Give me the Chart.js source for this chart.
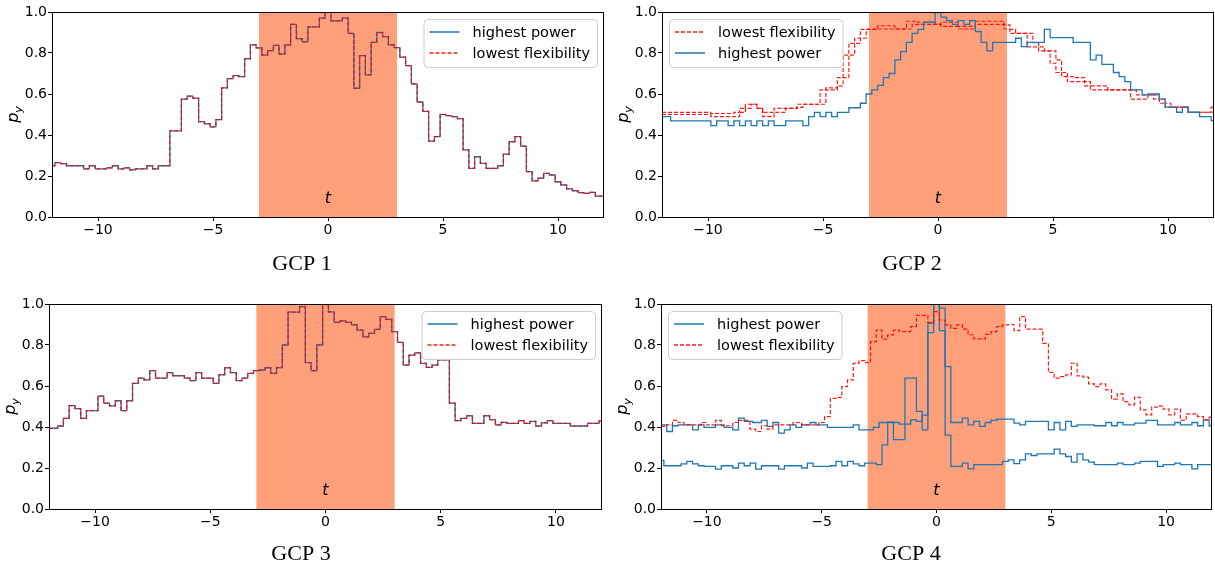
<!DOCTYPE html>
<html>
<head>
<meta charset="utf-8">
<title>GCP step curves</title>
<script src="https://cdn.jsdelivr.net/npm/chart.js@4.4.1/dist/chart.umd.min.js"></script>
<style>
  html, body { margin: 0; padding: 0; background: #fff; }
  body { width: 1215px; height: 569px; position: relative; overflow: hidden; }
  canvas { position: absolute; }
</style>
</head>
<body>
<canvas id="gcp1" width="610" height="285" style="left:0;top:0"></canvas>
<canvas id="gcp2" width="605" height="285" style="left:610px;top:0"></canvas>
<canvas id="gcp3" width="610" height="279" style="left:0;top:290px"></canvas>
<canvas id="gcp4" width="605" height="279" style="left:610px;top:290px"></canvas>
<script>
// Axis ticks and labels
const xTicks = [-10, -5, 0, 5, 10];
const yTicks = [0, 0.2, 0.4, 0.6, 0.8, 1.0];
const powerLabel = "highest power";
const flexLabel = "lowest flexibility";
const shadeRange = [-3, 3];

// Step change points [t, p_y] : value holds until the next point
// GCP 1 : both series are the same curve
const gcp1Steps = [
  [-12, 0.25], [-11.875, 0.265], [-11.625, 0.26], [-11.375, 0.25], [-10.625, 0.235], [-10.375, 0.25],
  [-10.125, 0.235], [-9.625, 0.24], [-9.375, 0.25], [-9.125, 0.235], [-8.875, 0.24], [-8.625, 0.23],
  [-8.375, 0.235], [-7.875, 0.25], [-7.625, 0.235], [-7.375, 0.25], [-6.875, 0.42], [-6.375, 0.575],
  [-6.125, 0.59], [-5.875, 0.58], [-5.625, 0.465], [-5.375, 0.455], [-5.125, 0.44], [-4.875, 0.475],
  [-4.625, 0.63], [-4.375, 0.675], [-4.125, 0.69], [-3.875, 0.685], [-3.625, 0.772], [-3.375, 0.84],
  [-3.125, 0.825], [-2.875, 0.79], [-2.625, 0.812], [-2.375, 0.837], [-2.125, 0.795], [-1.875, 0.84],
  [-1.625, 0.94], [-1.375, 0.87], [-1.125, 0.855], [-0.875, 0.927], [-0.375, 0.97], [-0.125, 1.0],
  [0.125, 0.957], [0.625, 0.97], [0.875, 0.896], [1.125, 0.628], [1.375, 0.787], [1.625, 0.693],
  [1.875, 0.852], [2.125, 0.9], [2.375, 0.88], [2.625, 0.84], [2.875, 0.826], [3.125, 0.78],
  [3.375, 0.738], [3.625, 0.649], [3.875, 0.561], [4.125, 0.515], [4.375, 0.37], [4.625, 0.392],
  [4.875, 0.5], [5.125, 0.495], [5.375, 0.49], [5.625, 0.48], [5.875, 0.327], [6.125, 0.237],
  [6.375, 0.294], [6.625, 0.262], [6.875, 0.237], [7.375, 0.25], [7.625, 0.307], [7.875, 0.367],
  [8.125, 0.392], [8.375, 0.346], [8.625, 0.221], [8.875, 0.176], [9.125, 0.189], [9.375, 0.213],
  [9.625, 0.205], [9.875, 0.172], [10.125, 0.156], [10.375, 0.137], [10.625, 0.128], [10.875, 0.119],
  [11.125, 0.115], [11.375, 0.12], [11.625, 0.102], [12, 0.102]
];

// GCP 2
const gcp2Power = [
  [-12, 0.49], [-11.625, 0.469], [-9.875, 0.446], [-9.625, 0.469], [-9.125, 0.446], [-8.875, 0.469],
  [-8.625, 0.446], [-8.375, 0.469], [-8.125, 0.446], [-7.875, 0.469], [-7.625, 0.446], [-7.375, 0.469],
  [-7.125, 0.446], [-6.625, 0.469], [-5.875, 0.446], [-5.625, 0.49], [-5.375, 0.51], [-5.125, 0.49],
  [-4.875, 0.51], [-4.625, 0.49], [-4.375, 0.51], [-3.875, 0.533], [-3.375, 0.555], [-3.125, 0.6],
  [-2.875, 0.62], [-2.625, 0.642], [-2.375, 0.68], [-2.125, 0.7], [-1.875, 0.766], [-1.625, 0.807],
  [-1.375, 0.852], [-1.125, 0.896], [-0.875, 0.915], [-0.625, 0.95], [-0.125, 1.0], [0.125, 0.975],
  [0.375, 0.958], [0.625, 0.94], [0.875, 0.958], [1.125, 0.94], [1.375, 0.958], [1.625, 0.905],
  [1.875, 0.852], [2.125, 0.81], [2.375, 0.852], [3.375, 0.872], [3.625, 0.831], [3.875, 0.852],
  [4.625, 0.915], [4.875, 0.875], [5.875, 0.852], [6.625, 0.766], [6.875, 0.79], [7.125, 0.745],
  [7.625, 0.705], [7.875, 0.685], [8.125, 0.66], [8.375, 0.62], [8.875, 0.596], [9.125, 0.6],
  [9.625, 0.575], [9.875, 0.536], [10.375, 0.511], [10.625, 0.536], [10.875, 0.511], [11.375, 0.49],
  [11.875, 0.47], [12, 0.47]
];
const gcp2FlexA = [
  [-12, 0.51], [-9.875, 0.505], [-8.875, 0.51], [-8.625, 0.53], [-8.375, 0.55], [-7.875, 0.53],
  [-7.625, 0.51], [-7.125, 0.53], [-6.125, 0.55], [-5.125, 0.62], [-4.875, 0.63], [-4.375, 0.68],
  [-4.125, 0.79], [-3.875, 0.847], [-3.625, 0.872], [-3.375, 0.915], [-2.625, 0.933], [-1.875, 0.917],
  [-1.375, 0.955], [-0.875, 0.95], [-0.125, 0.94], [0.125, 0.95], [0.875, 0.93], [1.625, 0.955],
  [2.875, 0.937], [3.125, 0.915], [3.375, 0.896], [4.125, 0.85], [4.375, 0.83], [4.625, 0.81],
  [5.125, 0.766], [5.375, 0.705], [5.625, 0.685], [5.875, 0.68], [6.375, 0.66], [6.625, 0.64],
  [7.375, 0.62], [8.625, 0.596], [9.625, 0.575], [9.875, 0.555], [10.125, 0.536], [10.875, 0.511],
  [11.875, 0.536], [12, 0.536]
];
const gcp2FlexB = [
  [-12, 0.5], [-9.875, 0.49], [-8.625, 0.51], [-8.375, 0.53], [-8.125, 0.55], [-7.875, 0.53],
  [-7.625, 0.49], [-7.125, 0.51], [-6.625, 0.53], [-6.125, 0.535], [-5.875, 0.55], [-5.125, 0.55],
  [-4.875, 0.62], [-4.375, 0.64], [-4.125, 0.68], [-3.875, 0.79], [-3.625, 0.847], [-3.375, 0.872],
  [-3.125, 0.915], [-2.625, 0.917], [-1.125, 0.94], [0.125, 0.93], [0.875, 0.917], [1.625, 0.94],
  [2.875, 0.917], [3.125, 0.896], [3.875, 0.83], [4.375, 0.81], [4.875, 0.75], [5.125, 0.705],
  [5.375, 0.685], [5.625, 0.66], [6.375, 0.64], [6.625, 0.62], [8.375, 0.575], [9.125, 0.596],
  [9.375, 0.575], [9.625, 0.555], [9.875, 0.536], [10.875, 0.511], [12, 0.511]
];

// GCP 3 : both series are the same curve
const gcp3Steps = [
  [-12, 0.394], [-11.625, 0.405], [-11.375, 0.442], [-11.125, 0.504], [-10.875, 0.49], [-10.625, 0.442],
  [-10.375, 0.48], [-9.875, 0.551], [-9.625, 0.516], [-9.375, 0.503], [-9.125, 0.528], [-8.875, 0.48],
  [-8.625, 0.528], [-8.375, 0.613], [-8.125, 0.638], [-7.875, 0.63], [-7.625, 0.675], [-7.375, 0.638],
  [-6.875, 0.665], [-6.625, 0.65], [-6.125, 0.638], [-5.875, 0.626], [-5.625, 0.665], [-5.375, 0.638],
  [-4.875, 0.613], [-4.625, 0.655], [-4.375, 0.689], [-4.125, 0.665], [-3.875, 0.626], [-3.625, 0.638],
  [-3.375, 0.662], [-3.125, 0.675], [-2.875, 0.678], [-2.625, 0.689], [-2.375, 0.662], [-2.125, 0.69],
  [-1.875, 0.8], [-1.625, 0.96], [-1.125, 0.987], [-0.875, 0.714], [-0.625, 0.675], [-0.375, 0.8],
  [-0.125, 1.0], [0.125, 0.962], [0.375, 0.91], [0.625, 0.918], [0.875, 0.91], [1.125, 0.898],
  [1.375, 0.873], [1.625, 0.84], [1.875, 0.857], [2.125, 0.876], [2.375, 0.938], [2.625, 0.925],
  [2.875, 0.865], [3.125, 0.813], [3.375, 0.702], [3.625, 0.751], [3.875, 0.762], [4.125, 0.71],
  [4.375, 0.691], [4.625, 0.702], [4.875, 0.727], [5.375, 0.516], [5.625, 0.431], [5.875, 0.442],
  [6.125, 0.455], [6.375, 0.418], [6.875, 0.455], [7.125, 0.436], [7.375, 0.41], [7.625, 0.423],
  [7.875, 0.418], [8.375, 0.431], [8.625, 0.418], [8.875, 0.427], [9.125, 0.405], [9.375, 0.42],
  [9.625, 0.431], [9.875, 0.418], [10.625, 0.405], [11.375, 0.418], [11.875, 0.43], [12, 0.43]
];

// GCP 4
const gcp4PowerA = [
  [-12, 0.41], [-11.75, 0.378], [-11.5, 0.406], [-11.25, 0.41], [-10.625, 0.386], [-10.375, 0.41],
  [-10.125, 0.398], [-9.625, 0.41], [-9.25, 0.398], [-8.875, 0.386], [-8.625, 0.443], [-8.375, 0.427],
  [-8.0, 0.422], [-7.625, 0.432], [-7.375, 0.403], [-7.125, 0.422], [-6.875, 0.37], [-6.625, 0.386],
  [-6.375, 0.41], [-6.125, 0.398], [-5.875, 0.41], [-5.5, 0.422], [-5.25, 0.41], [-4.75, 0.398],
  [-3.625, 0.41], [-3.375, 0.386], [-2.75, 0.398], [-2.5, 0.422], [-1.625, 0.414], [-1.125, 0.435],
  [-0.875, 0.427], [-0.625, 0.458], [-0.375, 0.906], [-0.125, 1.0], [0.125, 0.98], [0.375, 0.695],
  [0.625, 0.422], [1.125, 0.443], [1.375, 0.41], [1.625, 0.427], [1.875, 0.403], [2.125, 0.422],
  [2.375, 0.432], [2.625, 0.438], [3.375, 0.419], [3.625, 0.41], [3.875, 0.427], [4.875, 0.386],
  [5.125, 0.422], [5.375, 0.386], [5.625, 0.427], [5.875, 0.403], [6.125, 0.41], [6.875, 0.406],
  [7.375, 0.422], [7.625, 0.406], [7.875, 0.422], [8.125, 0.41], [8.625, 0.419], [9.125, 0.432],
  [9.625, 0.41], [10.375, 0.422], [10.625, 0.41], [11.125, 0.422], [11.375, 0.406], [11.625, 0.435],
  [11.875, 0.406], [12, 0.406]
];
const gcp4PowerB = [
  [-12, 0.237], [-11.875, 0.211], [-11.125, 0.22], [-10.875, 0.232], [-10.625, 0.22], [-10.375, 0.211],
  [-10.125, 0.208], [-9.625, 0.195], [-9.375, 0.211], [-8.875, 0.2], [-8.625, 0.224], [-8.375, 0.211],
  [-8.125, 0.224], [-7.875, 0.195], [-7.625, 0.211], [-6.875, 0.195], [-6.625, 0.211], [-5.875, 0.2],
  [-5.625, 0.224], [-5.375, 0.208], [-4.625, 0.211], [-4.375, 0.232], [-4.125, 0.211], [-3.875, 0.232],
  [-3.625, 0.22], [-3.375, 0.211], [-3.125, 0.224], [-2.625, 0.216], [-2.375, 0.313], [-2.125, 0.424],
  [-1.875, 0.338], [-1.375, 0.638], [-0.875, 0.476], [-0.625, 0.386], [-0.375, 0.86], [-0.125, 1.0],
  [0.125, 0.87], [0.375, 0.36], [0.625, 0.208], [1.125, 0.224], [1.375, 0.196], [1.625, 0.216],
  [2.875, 0.232], [3.125, 0.24], [3.375, 0.221], [3.625, 0.24], [3.875, 0.269], [4.125, 0.261],
  [4.375, 0.269], [5.125, 0.292], [5.375, 0.269], [5.625, 0.256], [5.875, 0.229], [6.125, 0.269],
  [6.375, 0.24], [6.625, 0.229], [6.875, 0.216], [7.875, 0.224], [8.125, 0.216], [8.625, 0.224],
  [8.875, 0.232], [9.625, 0.208], [9.875, 0.216], [10.375, 0.224], [10.625, 0.216], [11.125, 0.196],
  [11.375, 0.216], [12, 0.216]
];
const gcp4Flex = [
  [-12, 0.403], [-11.75, 0.41], [-11.5, 0.432], [-11.25, 0.422], [-11.0, 0.41], [-10.25, 0.422],
  [-10.0, 0.41], [-9.625, 0.432], [-9.375, 0.406], [-8.875, 0.422], [-8.625, 0.432], [-8.125, 0.39],
  [-7.875, 0.378], [-7.625, 0.406], [-7.375, 0.39], [-7.125, 0.41], [-6.25, 0.422], [-5.875, 0.41],
  [-5.125, 0.422], [-4.875, 0.451], [-4.625, 0.54], [-4.375, 0.545], [-4.125, 0.597], [-3.875, 0.63],
  [-3.625, 0.71], [-3.375, 0.724], [-3.125, 0.714], [-2.875, 0.816], [-2.625, 0.873], [-2.375, 0.828],
  [-2.125, 0.849], [-1.875, 0.873], [-1.625, 0.865], [-1.125, 0.89], [-0.875, 0.945], [-0.375, 0.91],
  [-0.125, 0.963], [0.125, 0.922], [0.375, 0.898], [0.625, 0.881], [0.875, 0.898], [1.125, 0.877],
  [1.375, 0.85], [1.625, 0.83], [2.125, 0.852], [2.375, 0.865], [2.625, 0.89], [2.875, 0.898],
  [3.125, 0.9], [3.375, 0.87], [3.625, 0.938], [3.875, 0.877], [4.625, 0.808], [4.875, 0.666],
  [5.125, 0.638], [5.375, 0.646], [5.625, 0.654], [5.875, 0.711], [6.125, 0.649], [6.375, 0.643],
  [6.625, 0.61], [6.875, 0.597], [7.125, 0.61], [7.375, 0.581], [7.625, 0.536], [7.875, 0.562],
  [8.125, 0.524], [8.375, 0.508], [8.625, 0.545], [8.875, 0.484], [9.125, 0.459], [9.375, 0.497],
  [9.625, 0.503], [9.875, 0.487], [10.125, 0.459], [10.375, 0.487], [10.625, 0.432], [10.875, 0.464],
  [11.375, 0.451], [11.625, 0.435], [11.875, 0.448], [12, 0.448]
];

// Styles
const powerColor = "#1f77b4";
const flexColor = "rgba(255, 0, 0, 0.9)";
const flexDash = [4, 2];
const shadeColor = "#ffa07a";
const tickFont = { family: "DejaVu Sans", size: 14 };

function powerLine(steps, order) {
  return {
    label: powerLabel,
    data: steps.map(p => ({ x: p[0], y: p[1] })),
    borderColor: powerColor,
    borderWidth: 1.3,
    stepped: "before",
    pointRadius: 0,
    fill: false,
    order: order
  };
}

function flexLine(steps, order) {
  return {
    label: flexLabel,
    data: steps.map(p => ({ x: p[0], y: p[1] })),
    borderColor: flexColor,
    borderDash: flexDash,
    borderWidth: 1.2,
    stepped: "before",
    pointRadius: 0,
    fill: false,
    order: order
  };
}

// Shaded window, frame, t marker, y label and legend box
function decorPlugin(legendItems, legendSide) {
  return {
    id: "decor",
    beforeDatasetsDraw(chart) {
      const { ctx, chartArea, scales } = chart;
      const x0 = scales.x.getPixelForValue(shadeRange[0]);
      const x1 = scales.x.getPixelForValue(shadeRange[1]);
      ctx.save();
      ctx.fillStyle = shadeColor;
      ctx.fillRect(x0, chartArea.top, x1 - x0, chartArea.bottom - chartArea.top);
      ctx.restore();
    },
    afterDraw(chart) {
      const { ctx, chartArea, scales } = chart;
      const a = chartArea;
      ctx.save();

      // t marker
      ctx.fillStyle = "#000";
      ctx.font = 'italic 16px "DejaVu Sans"';
      ctx.textAlign = "center";
      ctx.textBaseline = "middle";
      ctx.fillText("t", scales.x.getPixelForValue(0), scales.y.getPixelForValue(0.09));

      // frame
      ctx.strokeStyle = "#000";
      ctx.lineWidth = 1;
      ctx.strokeRect(a.left + 0.5, a.top + 0.5, a.right - a.left - 1, a.bottom - a.top);

      // y label p_y
      ctx.translate(a.left - 38, (a.top + a.bottom) / 2);
      ctx.rotate(-Math.PI / 2);
      ctx.textAlign = "left";
      ctx.textBaseline = "alphabetic";
      ctx.font = 'italic 16px "DejaVu Sans"';
      const pw = ctx.measureText("p").width;
      ctx.font = 'italic 11px "DejaVu Sans"';
      const yw = ctx.measureText("y").width;
      const start = -(pw + yw) / 2;
      ctx.font = 'italic 16px "DejaVu Sans"';
      ctx.fillText("p", start, 4);
      ctx.font = 'italic 11px "DejaVu Sans"';
      ctx.fillText("y", start + pw, 8);
      ctx.restore();

      // legend
      ctx.save();
      ctx.font = '14.5px "DejaVu Sans"';
      const textW = Math.max(...legendItems.map(it => ctx.measureText(it.label).width));
      const boxW = 6 + 30 + 13 + textW + 7;
      const boxH = 48;
      const bx = legendSide === "right" ? a.right - 7 - boxW : a.left + 7;
      const by = a.top + 7;
      ctx.beginPath();
      ctx.roundRect(bx + 0.5, by + 0.5, boxW, boxH, 4);
      ctx.fillStyle = "rgba(255, 255, 255, 0.8)";
      ctx.fill();
      ctx.strokeStyle = "#cccccc";
      ctx.lineWidth = 1;
      ctx.stroke();
      legendItems.forEach((it, i) => {
        const ry = by + 13 + i * 21;
        ctx.beginPath();
        ctx.strokeStyle = it.color;
        ctx.lineWidth = 1.5;
        ctx.setLineDash(it.dash || []);
        ctx.moveTo(bx + 6, ry);
        ctx.lineTo(bx + 36, ry);
        ctx.stroke();
        ctx.setLineDash([]);
        ctx.fillStyle = "#000";
        ctx.textAlign = "left";
        ctx.textBaseline = "middle";
        ctx.fillText(it.label, bx + 49, ry + 1);
      });
      ctx.restore();
    }
  };
}

const powerItem = { label: powerLabel, color: powerColor };
const flexItem = { label: flexLabel, color: flexColor, dash: flexDash };

function makePanel(id, title, datasets, layout, legendItems, legendSide) {
  return new Chart(document.getElementById(id), {
    type: "line",
    data: { datasets: datasets },
    options: {
      responsive: false,
      animation: false,
      events: [],
      layout: { padding: { left: 0, top: layout.top, right: layout.right, bottom: 0 } },
      scales: {
        x: {
          type: "linear",
          min: -12,
          max: 12,
          afterBuildTicks: axis => { axis.ticks = xTicks.map(v => ({ value: v })); },
          afterFit: axis => { axis.height = 24; },
          ticks: {
            autoSkip: false,
            maxRotation: 0,
            padding: 1,
            color: "#000",
            font: tickFont,
            callback: v => (v < 0 ? "\u2212" + Math.abs(v) : String(v))
          },
          grid: { display: true, drawOnChartArea: false, drawTicks: true, tickLength: 4, color: "#000" },
          border: { display: false }
        },
        y: {
          type: "linear",
          min: 0,
          max: 1,
          afterBuildTicks: axis => { axis.ticks = yTicks.map(v => ({ value: v })); },
          afterFit: axis => { axis.width = layout.yWidth; },
          ticks: {
            padding: 1,
            color: "#000",
            font: tickFont,
            callback: v => v.toFixed(1)
          },
          grid: { display: true, drawOnChartArea: false, drawTicks: true, tickLength: 4, color: "#000" },
          border: { display: false }
        }
      },
      plugins: {
        legend: { display: false },
        tooltip: { enabled: false },
        title: {
          display: true,
          text: title,
          position: "bottom",
          color: "#000",
          font: { family: "Liberation Serif", size: 22, weight: "normal", lineHeight: "24px" },
          padding: { top: layout.titleTop, bottom: layout.titleBottom }
        }
      }
    },
    plugins: [decorPlugin(legendItems, legendSide)]
  });
}

makePanel("gcp1", "GCP 1",
  [powerLine(gcp1Steps, 1), flexLine(gcp1Steps, 0)],
  { top: 12, right: 6, yWidth: 52, titleTop: 11, titleBottom: 9 },
  [powerItem, flexItem], "right");

makePanel("gcp2", "GCP 2",
  [flexLine(gcp2FlexA, 1), flexLine(gcp2FlexB, 1), powerLine(gcp2Power, 0)],
  { top: 12, right: 1, yWidth: 52, titleTop: 11, titleBottom: 9 },
  [flexItem, powerItem], "left");

makePanel("gcp3", "GCP 3",
  [powerLine(gcp3Steps, 1), flexLine(gcp3Steps, 0)],
  { top: 14, right: 8, yWidth: 49, titleTop: 9, titleBottom: 3 },
  [powerItem, flexItem], "right");

makePanel("gcp4", "GCP 4",
  [powerLine(gcp4PowerA, 1), powerLine(gcp4PowerB, 1), flexLine(gcp4Flex, 0)],
  { top: 14, right: 3, yWidth: 51, titleTop: 9, titleBottom: 3 },
  [powerItem, flexItem], "left");
</script>
</body>
</html>
